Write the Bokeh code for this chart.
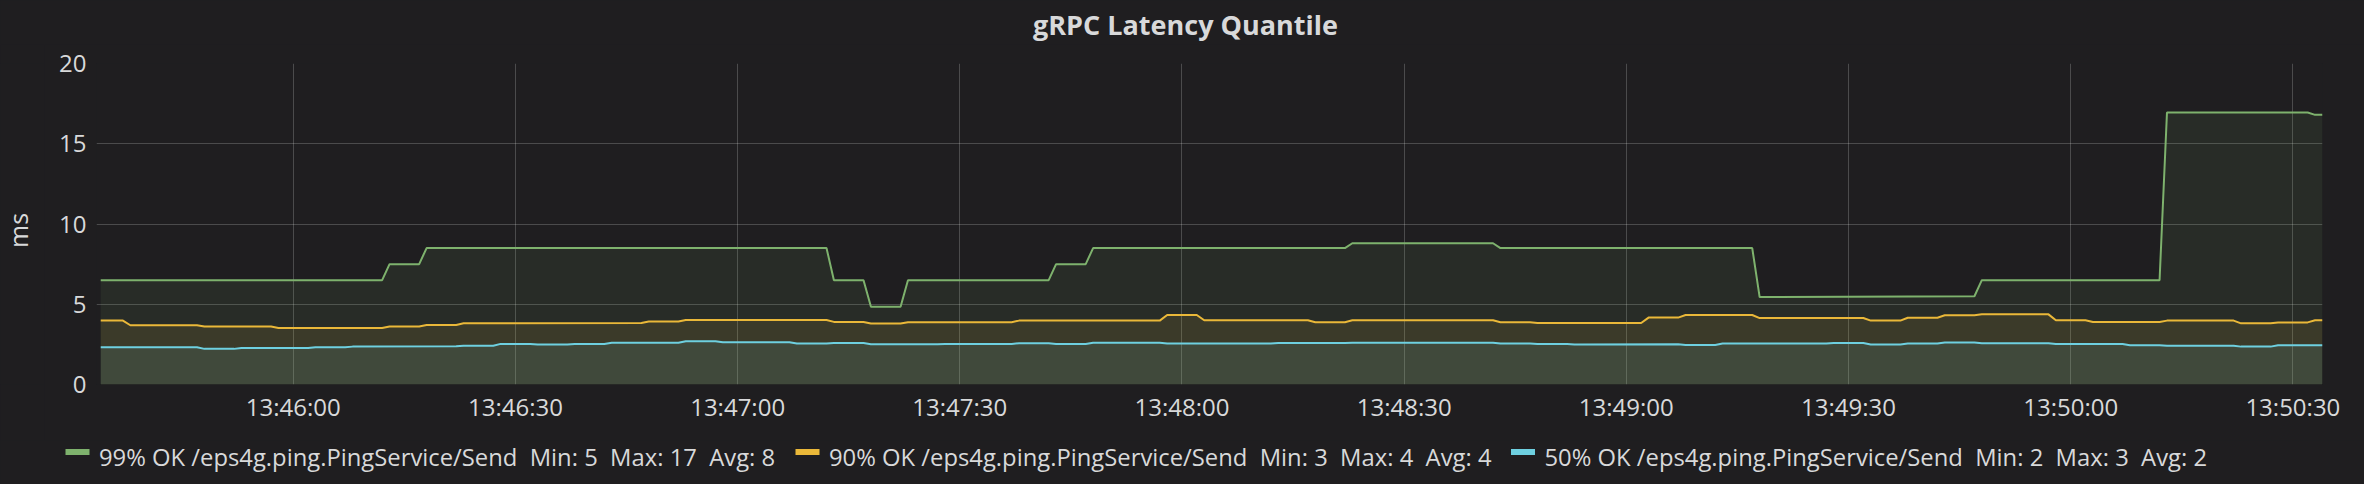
import pandas as pd
from math import pi
from bokeh.plotting import figure
from bokeh.layouts import column, row
from bokeh.models import (Range1d, FixedTicker, DatetimeTickFormatter, ColumnDataSource)
from bokeh.core.properties import value
from bokeh.embed import file_html
from bokeh.resources import INLINE

# ---------------- data ----------------
DAY = "2018-03-14 "
title_text = "gRPC Latency Quantile"
y_label = "ms"
y_ticks = [0, 5, 10, 15, 20]
x_ticks = ["13:46:00", "13:46:30", "13:47:00", "13:47:30", "13:48:00",
           "13:48:30", "13:49:00", "13:49:30", "13:50:00", "13:50:30"]
x_start = "13:45:33.430"
x_end = "13:50:34"

series_names = ["99% OK /eps4g.ping.PingService/Send",
                "90% OK /eps4g.ping.PingService/Send",
                "50% OK /eps4g.ping.PingService/Send"]
series_min = [5, 3, 2]
series_max = [17, 4, 3]
series_avg = [8, 4, 2]
series_colors = ["#7eb26d", "#eab839", "#6ed0e0"]

p99_times = ["13:45:34", "13:46:12", "13:46:13", "13:46:17", "13:46:18", "13:47:12",
             "13:47:13", "13:47:17", "13:47:18", "13:47:22", "13:47:23", "13:47:42",
             "13:47:43", "13:47:47", "13:47:48", "13:48:22", "13:48:23", "13:48:42",
             "13:48:43", "13:49:17", "13:49:18", "13:49:47", "13:49:48", "13:50:12",
             "13:50:13", "13:50:32", "13:50:33", "13:50:34"]
p99_values = [6.5, 6.5, 7.5, 7.5, 8.5, 8.5,
              6.5, 6.5, 4.85, 4.85, 6.5, 6.5,
              7.5, 7.5, 8.5, 8.5, 8.8, 8.8,
              8.5, 8.5, 5.45, 5.5, 6.5, 6.5,
              16.95, 16.95, 16.8, 16.8]

p90_times = ["13:45:34", "13:45:37", "13:45:38", "13:45:47", "13:45:48", "13:45:57",
             "13:45:58", "13:46:12", "13:46:13", "13:46:17", "13:46:18", "13:46:22",
             "13:46:23", "13:46:47", "13:46:48", "13:46:52", "13:46:53", "13:47:12",
             "13:47:13", "13:47:17", "13:47:18", "13:47:22", "13:47:23", "13:47:37",
             "13:47:38", "13:47:57", "13:47:58", "13:48:02", "13:48:03", "13:48:17",
             "13:48:18", "13:48:22", "13:48:23", "13:48:42", "13:48:43", "13:48:47",
             "13:48:48", "13:49:02", "13:49:03", "13:49:07", "13:49:08", "13:49:17",
             "13:49:18", "13:49:32", "13:49:33", "13:49:37", "13:49:38", "13:49:42",
             "13:49:43", "13:49:47", "13:49:48", "13:49:57", "13:49:58", "13:50:02",
             "13:50:03", "13:50:12", "13:50:13", "13:50:22", "13:50:23", "13:50:27",
             "13:50:28", "13:50:32", "13:50:33", "13:50:34"]
p90_values = [3.98, 3.98, 3.69, 3.69, 3.61, 3.61,
              3.52, 3.52, 3.62, 3.62, 3.71, 3.71,
              3.81, 3.83, 3.92, 3.92, 4.02, 4.02,
              3.90, 3.90, 3.80, 3.80, 3.88, 3.88,
              3.98, 3.98, 4.33, 4.33, 4.00, 4.00,
              3.88, 3.88, 4.00, 4.00, 3.88, 3.88,
              3.83, 3.83, 4.17, 4.17, 4.33, 4.33,
              4.14, 4.14, 3.98, 3.98, 4.16, 4.16,
              4.31, 4.31, 4.37, 4.37, 4.00, 4.00,
              3.90, 3.90, 3.98, 3.98, 3.81, 3.81,
              3.87, 3.87, 4.00, 4.00]

p50_times = ["13:45:34", "13:45:47", "13:45:48", "13:45:52", "13:45:53", "13:46:02",
             "13:46:03", "13:46:07", "13:46:08", "13:46:22", "13:46:23", "13:46:27",
             "13:46:28", "13:46:32", "13:46:33", "13:46:37", "13:46:38", "13:46:42",
             "13:46:43", "13:46:52", "13:46:53", "13:46:57", "13:46:58", "13:47:07",
             "13:47:08", "13:47:12", "13:47:13", "13:47:17", "13:47:18", "13:47:27",
             "13:47:28", "13:47:37", "13:47:38", "13:47:42", "13:47:43", "13:47:47",
             "13:47:48", "13:47:57", "13:47:58", "13:48:12", "13:48:13", "13:48:22",
             "13:48:23", "13:48:42", "13:48:43", "13:48:47", "13:48:48", "13:48:52",
             "13:48:53", "13:49:07", "13:49:08", "13:49:12", "13:49:13", "13:49:27",
             "13:49:28", "13:49:32", "13:49:33", "13:49:37", "13:49:38", "13:49:42",
             "13:49:43", "13:49:47", "13:49:48", "13:49:57", "13:49:58", "13:50:07",
             "13:50:08", "13:50:12", "13:50:13", "13:50:22", "13:50:23", "13:50:27",
             "13:50:28", "13:50:34"]
p50_values = [2.32, 2.32, 2.22, 2.22, 2.28, 2.28,
              2.32, 2.32, 2.36, 2.38, 2.42, 2.42,
              2.53, 2.53, 2.49, 2.49, 2.53, 2.53,
              2.60, 2.60, 2.70, 2.70, 2.63, 2.63,
              2.55, 2.55, 2.58, 2.58, 2.51, 2.51,
              2.53, 2.53, 2.57, 2.57, 2.53, 2.53,
              2.60, 2.60, 2.55, 2.55, 2.58, 2.58,
              2.60, 2.60, 2.55, 2.55, 2.52, 2.52,
              2.49, 2.51, 2.46, 2.46, 2.55, 2.55,
              2.59, 2.59, 2.49, 2.49, 2.55, 2.55,
              2.61, 2.61, 2.57, 2.57, 2.53, 2.53,
              2.44, 2.44, 2.42, 2.42, 2.36, 2.36,
              2.44, 2.44]

series_times = [p99_times, p90_times, p50_times]
series_values = [p99_values, p90_values, p50_values]

# ---------------- style / layout ----------------
BG = "#1f1e20"
TEXT = "#d8d9da"
FONT = "Open Sans"
W, H = 2364, 484
TITLE_H = 44
LEGEND_H = 44
LEFT_W = 44
MAIN_H = H - TITLE_H - LEGEND_H
NBSP2 = "\u00a0\u00a0"


def ts(t):
    return pd.Timestamp(DAY + t)


def ms(t):
    return ts(t).value / 1e6


def strip(width, height):
    """A figure whose frame is the whole canvas, mapped 1:1 to pixels (y down)."""
    f = figure(width=width, height=height, x_range=Range1d(0, width),
               y_range=Range1d(height, 0), x_axis_location=None,
               y_axis_location=None, output_backend="svg", toolbar_location=None,
               title=None, min_border=0, min_border_left=0, min_border_right=0,
               min_border_top=0, min_border_bottom=0)
    f.background_fill_color = BG
    f.border_fill_color = BG
    f.outline_line_color = None
    f.grid.visible = False
    return f


# ---- title strip
title_fig = strip(W, TITLE_H)
title_fig.text(x=[1185], y=[23.7], text=[title_text], text_align="center",
               text_baseline="alphabetic", text_font=value(FONT),
               text_font_style="bold", text_font_size=value("27px"),
               text_color=TEXT)

# ---- y-axis label strip
ms_fig = strip(LEFT_W, MAIN_H)
ms_fig.text(x=[17], y=[250 - TITLE_H], text=[y_label], angle=pi / 2,
            text_align="center", text_baseline="alphabetic",
            text_font=value(FONT), text_font_size=value("25px"), text_color=TEXT)

# ---- main chart
p = figure(width=W - LEFT_W, height=MAIN_H, x_axis_type="datetime",
           x_range=Range1d(ts(x_start), ts(x_end)), y_range=Range1d(0, 20),
           output_backend="svg", toolbar_location=None, title=None,
           min_border_left=96 - LEFT_W, min_border_right=W - 2322,
           min_border_top=63 - TITLE_H, min_border_bottom=TITLE_H + MAIN_H - 384)
p.background_fill_color = BG
p.border_fill_color = BG
p.outline_line_color = None

for times, vals, col in zip(series_times, series_values, series_colors):
    src = ColumnDataSource(dict(x=pd.to_datetime([DAY + t for t in times]),
                                y=vals, base=[0] * len(vals)))
    p.varea(x="x", y1="base", y2="y", source=src, fill_color=col, fill_alpha=0.1)
    p.line(x="x", y="y", source=src, line_color=col, line_width=2)

p.xaxis.ticker = FixedTicker(ticks=[ms(t) for t in x_ticks], minor_ticks=[])
fmt = "%H:%M:%S"
p.xaxis.formatter = DatetimeTickFormatter(seconds=fmt, minsec=fmt, minutes=fmt,
                                          hourmin=fmt, hours=fmt)
p.yaxis.ticker = FixedTicker(ticks=y_ticks, minor_ticks=[])
for ax in (p.xaxis[0], p.yaxis[0]):
    ax.axis_line_color = None
    ax.major_tick_line_color = None
    ax.minor_tick_line_color = None
    ax.major_tick_out = 0
    ax.major_tick_in = 0
    ax.major_label_text_font = FONT
    ax.major_label_text_font_size = "24px"
    ax.major_label_text_color = TEXT
p.xaxis.major_label_standoff = 5
p.yaxis.major_label_standoff = 10

p.xgrid.grid_line_color = "#ffffff"
p.xgrid.grid_line_alpha = 0.2
p.ygrid.grid_line_color = "#ffffff"
p.ygrid.grid_line_alpha = 0.2

# ---- legend strip
leg = strip(W, LEGEND_H)
swatch_left = [65, 795, 1510.5]
sw_cy = 451.5 - (TITLE_H + MAIN_H)
text_base = 456.8 - (TITLE_H + MAIN_H)
labels = [f"{n}{NBSP2}Min: {a}{NBSP2}Max: {b}{NBSP2}Avg: {c}"
          for n, a, b, c in zip(series_names, series_min, series_max, series_avg)]
leg.rect(x=[s + 12 for s in swatch_left], y=[sw_cy] * 3, width=24, height=6,
         fill_color=series_colors, line_color=None)
leg.text(x=[s + 33.5 for s in swatch_left], y=[text_base] * 3, text=labels,
         text_align="left", text_baseline="alphabetic", text_font=value(FONT),
         text_font_size=value("23.8px"), text_color=TEXT)

layout = column(title_fig, row(ms_fig, p, spacing=0), leg, spacing=0)

html = file_html(layout, INLINE, title=title_text)
html = html.replace("</head>", "<style>body{background:%s;}</style></head>" % BG, 1)
open("out.html", "w").write(html)
